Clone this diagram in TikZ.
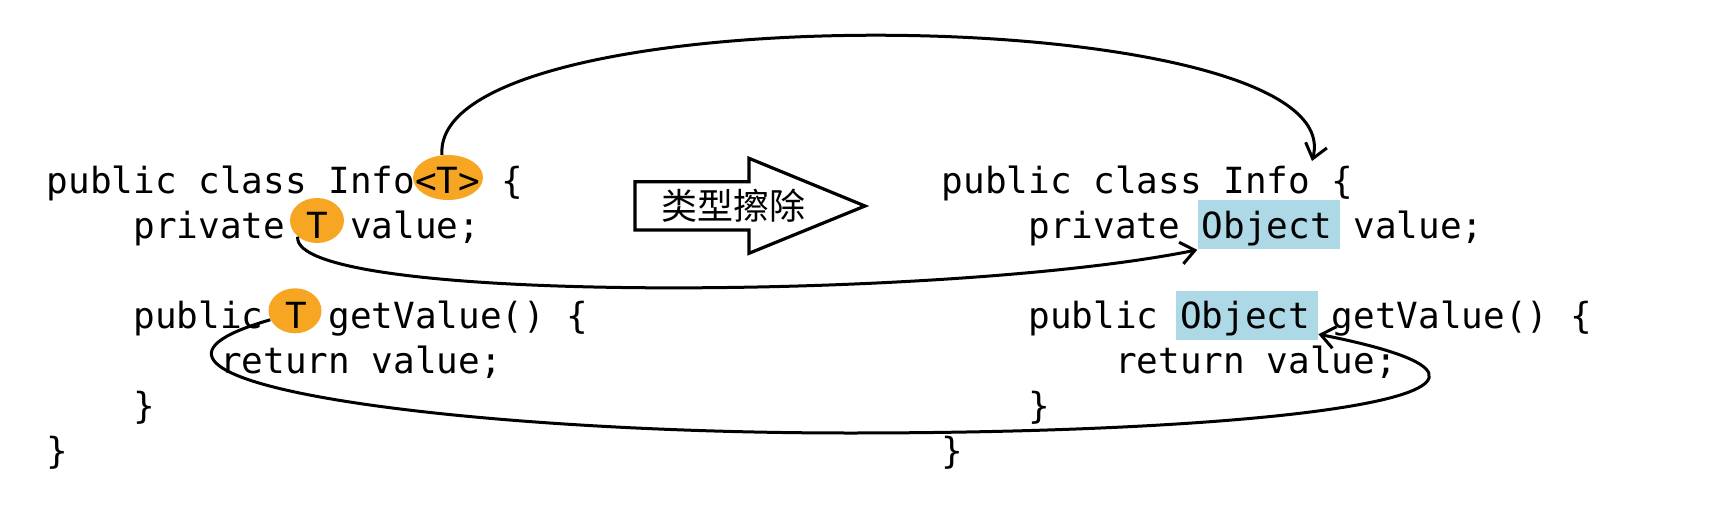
\documentclass[tikz,border=0pt]{standalone}
\usepackage{fontspec}
\setmonofont{DejaVu Sans Mono}
\newfontfamily\cjkfont{Noto Sans CJK SC}
\usepackage{tikz}
\usetikzlibrary{shapes,arrows.meta}
\definecolor{tOrange}{RGB}{246,166,35}
\definecolor{objBlue}{RGB}{173,216,230}

\begin{document}
\begin{tikzpicture}[x=0.5pt, y=-0.5pt]%
  \tikzset{normal arrow/.style={draw,-{Straight Barb[length=7pt,width=11pt]},line width=1.5pt,black}}
  \tikzstyle{code}=[anchor=base west, inner sep=0pt, outer sep=0pt, font=\ttfamily\fontsize{18}{22}\selectfont]
  \tikzstyle{generic}=[ellipse, fill=tOrange, draw=none, inner sep=0pt, minimum height=22.5pt]
  \tikzstyle{erased}=[rectangle, fill=objBlue, draw=none, inner sep=0pt, minimum height=24.5pt]

  \useasboundingbox (0,0) rectangle (1728,508);

  % highlights under the code
  \node[generic, minimum width=35pt] at (448,177.5) (Tcls) {};
  \node[generic, minimum width=27pt] at (317,220.5) (Tfld) {};
  \node[generic, minimum width=26.5pt] at (295,310.8) (Tret) {};
  \node[erased, minimum width=71pt] at (1268.7,224.9) (Ofld) {};
  \node[erased, minimum width=71pt] at (1247,315.1) (Oret) {};

  % generic class
  \node[code] at (46.7,193.3) (L1) {public class Info<T> \{};
  \node[code] at (133.4,238.4) (L2) {private T value;};
  \node[code] at (133.4,328.6) (L4) {public T getValue() \{};
  \node[code] at (220.1,373.7) (L5) {return value;};
  \node[code] at (133.4,418.8) (L6) {\}};
  \node[code] at (46.7,463.9) (L7) {\}};

  % after erasure
  \node[code] at (941.7,193.3) (R1) {public class Info \{};
  \node[code] at (1028.4,238.4) (R2) {private Object value;};
  \node[code] at (1028.4,328.6) (R4) {public Object getValue() \{};
  \node[code] at (1115.1,373.7) (R5) {return value;};
  \node[code] at (1028.4,418.8) (R6) {\}};
  \node[code] at (941.7,463.9) (R7) {\}};

  % big arrow
  \draw[line width=1.6pt, fill=white] (635,181.7) -- (749,181.7) -- (749,158.3) -- (865,206) -- (749,253.3) -- (749,230) -- (635,230) -- cycle;
  \node[font=\cjkfont\fontsize{18}{22}\selectfont, inner sep=0pt] at (733.3,205.8) (erase) {类型擦除};

  \coordinate (Rinfo) at (1312,161);
  \path[normal arrow] (Tcls.105) .. controls (430,-10) and (1355,0) .. (Rinfo);
  \path[normal arrow] (Tfld.220) .. controls (290,305) and (950,300) .. (Ofld.south west);
  \path[normal arrow] (Tret.200) .. controls (60,380) and (450,433) .. (850,433) .. controls (1300,433) and (1600,390) .. (Oret.-15);
\end{tikzpicture}
\end{document}
